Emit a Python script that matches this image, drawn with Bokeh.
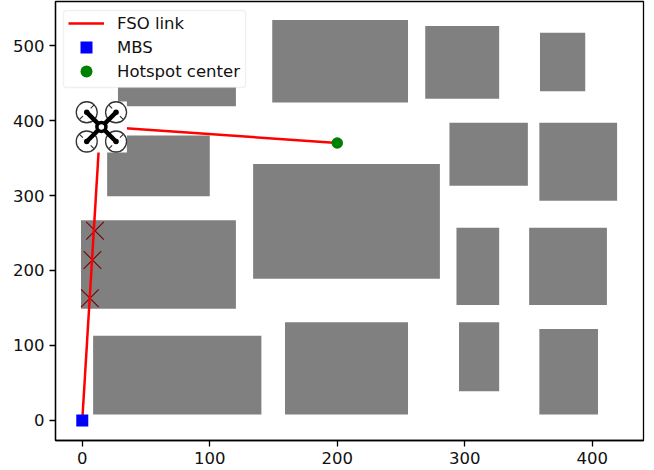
from math import pi
from bokeh.plotting import figure
from bokeh.models import Range1d, Legend, LegendItem, FixedTicker, BoxAnnotation
from bokeh.embed import file_html
from bokeh.resources import INLINE

bld_left = [28, 149, 269, 359, 19.5, 134, 288, 358.5, -1, 293.5, 350.5, 8.5, 159, 295.5, 358.5]
bld_right = [120.5, 255.5, 327, 394.5, 100, 280.5, 349.5, 419.5, 120.5, 327, 411.5, 140.5, 255.5, 327, 404.5]
bld_bottom = [419, 424, 429, 439, 299, 189, 313, 293, 149, 154, 154, 8, 8, 39, 8]
bld_top = [445, 534, 526, 517, 380, 342, 397, 397, 267, 257, 257, 113, 131, 131, 122]

cross_x = [10, 8, 6]
cross_y = [253, 214, 163]

link1_x = [0, 14]
link1_y = [0, 392]
link2_x = [14, 200]
link2_y = [392, 370]

mbs_x = [0]
mbs_y = [0]
hot_x = [200]
hot_y = [370]

drone_x = [15]
drone_y = [391.5]
rotor_x = [3.5, 26.5, 3.5, 26.5]
rotor_y = [411, 411, 372, 372]
spoke_angle = [pi / 4, -pi / 4, -pi / 4, pi / 4]

x_ticks = [0, 100, 200, 300, 400]
y_ticks = [0, 100, 200, 300, 400, 500]

legend_labels = ["FSO link", "MBS", "Hotspot center"]

p = figure(width=654, height=470, output_backend="svg", toolbar_location=None,
           x_range=Range1d(-21, 440.2), y_range=Range1d(-26.7, 558.7),
           min_border_left=55, min_border_right=11, min_border_top=1, min_border_bottom=30,
           margin=(0, 0, 0, 0), background_fill_color="white", border_fill_color="white")
p.grid.visible = False
p.outline_line_color = "black"
p.outline_line_width = 1.3

for ax, t in ((p.xaxis[0], x_ticks), (p.yaxis[0], y_ticks)):
    ax.ticker = FixedTicker(ticks=t)
    ax.minor_tick_line_color = None
    ax.major_tick_in = 0
    ax.major_tick_out = 6
    ax.major_tick_line_color = "black"
    ax.major_tick_line_width = 1.3
    ax.axis_line_color = "black"
    ax.axis_line_width = 1.3
    ax.major_label_text_font = "DejaVu Sans"
    ax.major_label_text_font_size = "16.5px"
    ax.major_label_text_color = "#111111"
    ax.major_label_standoff = 5
p.yaxis[0].major_label_orientation = "horizontal"

p.quad(left=bld_left, right=bld_right, bottom=bld_bottom, top=bld_top,
       fill_color="#808080", line_color=None)
p.scatter(cross_x, cross_y, marker="x", size=25, line_color="#7a0000", line_width=1.1, fill_color=None)

r_line = p.line(link1_x, link1_y, line_color="red", line_width=2.5)
p.line(link2_x, link2_y, line_color="red", line_width=2.5)
r_mbs = p.scatter(mbs_x, mbs_y, marker="square", size=12, fill_color="blue", line_color="blue", line_width=0)
r_hot = p.scatter(hot_x, hot_y, marker="circle", size=11.5, fill_color="green", line_color="green", line_width=0)

# drone icon
p.scatter(drone_x, drone_y, marker="square", size=51, fill_color="white", line_color=None)
p.scatter(rotor_x, rotor_y, marker="circle", size=21, fill_color=None, line_color="#333333", line_width=1.3)
p.scatter(rotor_x, rotor_y, marker="dash", size=21, angle=spoke_angle, line_color="#333333", line_width=1.2,
          line_dash="5 11")
p.scatter(drone_x, drone_y, marker="x", size=42, line_color="black", line_width=4.5)
p.scatter(rotor_x, rotor_y, marker="circle", size=5.5, fill_color="black", line_color=None)
p.scatter(drone_x, drone_y, marker="circle", size=9, fill_color="white", line_color="black", line_width=3.5)

box = BoxAnnotation(left=8, right=190, top=430, bottom=353,
                    left_units="screen", right_units="screen", top_units="screen", bottom_units="screen",
                    fill_color="white", fill_alpha=1, line_color="#cccccc", line_width=1.3, border_radius=3)
p.add_layout(box)

for label, rend, ly in zip(legend_labels, [r_line, r_mbs, r_hot], [402, 378, 354]):
    legend = Legend(items=[LegendItem(label=label, renderers=[rend])],
                    location=(13, ly), orientation="vertical",
                    background_fill_alpha=0, border_line_color=None,
                    label_text_font="DejaVu Sans", label_text_font_size="16.5px",
                    label_text_color="#111111",
                    glyph_width=36, glyph_height=30, label_standoff=13,
                    spacing=0, padding=0, margin=0)
    p.add_layout(legend, "center")

open("out.html", "w").write(file_html(p, INLINE))
